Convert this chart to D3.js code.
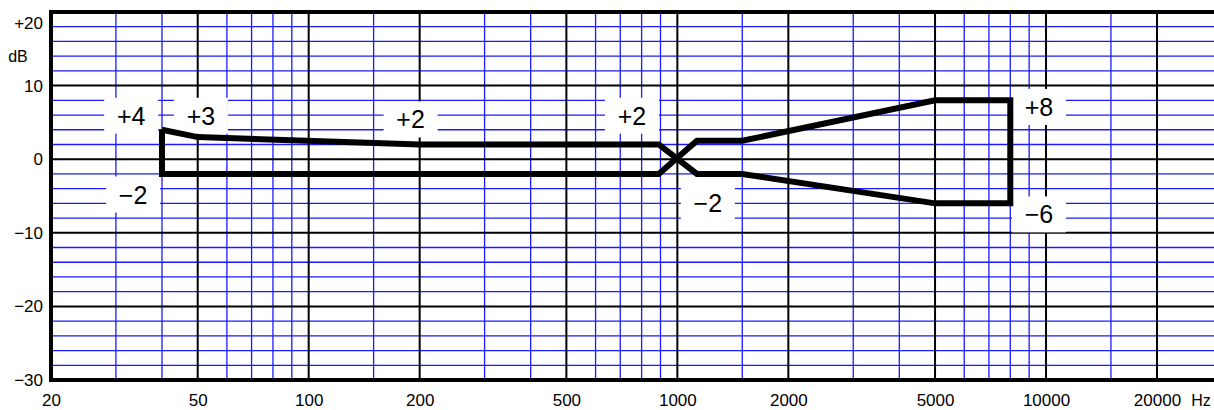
<!DOCTYPE html>
<html>
<head>
<meta charset="utf-8">
<script src="https://cdn.jsdelivr.net/npm/d3@7"></script>
<style>
  body { margin: 0; background: #fff; }
  svg { display: block; }
  text { font-family: "Liberation Sans Narrow", "Liberation Sans", Arial, sans-serif; fill: #000; }
</style>
</head>
<body>
<svg id="chart"></svg>
<script>
// frequency grid (Hz)
const majorFreqs = [20, 50, 100, 200, 500, 1000, 2000, 5000, 10000, 20000];
const minorFreqs = [30, 40, 60, 70, 80, 90, 150, 300, 400, 600, 700, 800, 900,
                    1500, 3000, 4000, 6000, 7000, 8000, 9000, 15000];
const freqLabels = ['20', '50', '100', '200', '500', '1000', '2000', '5000', '10000', '20000'];

// level grid (dB)
const majorLevels = [-30, -20, -10, 0, 10, 20];
const minorLevels = [-28, -26, -24, -22, -18, -16, -14, -12, -8, -6, -4, -2,
                     2, 4, 6, 8, 12, 14, 16, 18];
const levelLabels = ['\u221230', '\u221220', '\u221210', '0', '10', '+20'];

// tolerance band outline (Hz, dB), drawn as one closed path
const bandFreqs  = [40, 50, 200, 890, 1130, 1500, 5000, 8000, 8000, 5000, 1500, 1130, 890, 40, 40];
const bandLevels = [4, 3, 2, 2, -2, -2, -6, -6, 8, 8, 2.5, 2.5, -2, -2, 4];

// annotations: text, anchor freq, anchor dB
const noteTexts  = ['+4', '+3', '+2', '+2', '\u22122', '\u22122', '+8', '\u22126'];
const noteFreqs  = [33, 51, 189, 753, 33.4, 1210, 9570, 9570];
const noteLevels = [5.9, 5.9, 5.4, 5.9, -4.8, -6.0, 7.1, -7.5];

const width = 1214, height = 410;
const margin = { left: 51, top: 12, bottom: 380, right: 1214 };

const svg = d3.select('#chart')
    .attr('width', width)
    .attr('height', height);

const x = d3.scaleLog().domain([20, 20000]).range([margin.left, 1157]);
const y = d3.scaleLinear().domain([-30, 20]).range([margin.bottom, margin.top]);

const grid = svg.append('g');

// minor blue grid
grid.append('g').selectAll('line')
    .data(minorLevels)
    .join('line')
    .attr('x1', margin.left).attr('x2', margin.right)
    .attr('y1', d => y(d)).attr('y2', d => y(d))
    .attr('stroke', '#1a1aff').attr('stroke-width', 1.3);

grid.append('g').selectAll('line')
    .data(minorFreqs)
    .join('line')
    .attr('x1', d => x(d)).attr('x2', d => x(d))
    .attr('y1', margin.top).attr('y2', margin.bottom)
    .attr('stroke', '#1a1aff').attr('stroke-width', 1.3);

// major black grid
grid.append('g').selectAll('line')
    .data(majorLevels.slice(1, -1))
    .join('line')
    .attr('x1', margin.left).attr('x2', margin.right)
    .attr('y1', d => y(d)).attr('y2', d => y(d))
    .attr('stroke', '#000').attr('stroke-width', 2);

grid.append('g').selectAll('line')
    .data(majorFreqs.slice(1))
    .join('line')
    .attr('x1', d => x(d)).attr('x2', d => x(d))
    .attr('y1', margin.top).attr('y2', margin.bottom)
    .attr('stroke', '#000').attr('stroke-width', 2);

// frame: top, bottom, left (no right edge)
const frame = svg.append('g')
    .attr('stroke', '#000').attr('stroke-width', 4).attr('fill', 'none');
frame.append('line').attr('x1', margin.left - 2).attr('x2', margin.right).attr('y1', y(20)).attr('y2', y(20));
frame.append('line').attr('x1', margin.left - 2).attr('x2', margin.right).attr('y1', y(-30)).attr('y2', y(-30));
frame.append('line').attr('x1', x(20)).attr('x2', x(20)).attr('y1', y(20) - 2).attr('y2', y(-30) + 2);

// annotation labels on white boxes
const notes = svg.append('g').selectAll('g')
    .data(noteTexts.map((t, i) => ({ t, f: noteFreqs[i], db: noteLevels[i] })))
    .join('g')
    .attr('transform', d => `translate(${x(d.f)},${y(d.db)})`);

notes.append('rect')
    .attr('x', -27).attr('y', -18)
    .attr('width', 54).attr('height', 36)
    .attr('fill', '#fff');

notes.append('text')
    .attr('text-anchor', 'middle')
    .attr('dy', '0.36em')
    .style('font-size', '25px')
    .text(d => d.t);

// tolerance band
const line = d3.line()
    .x(d => x(d[0]))
    .y(d => y(d[1]));

svg.append('path')
    .datum(d3.zip(bandFreqs, bandLevels))
    .attr('d', line)
    .attr('fill', 'none')
    .attr('stroke', '#000')
    .attr('stroke-width', 6)
    .attr('stroke-linejoin', 'miter');

// axes (labels only)
const yAxis = svg.append('g')
    .attr('transform', `translate(${margin.left - 6},0)`)
    .call(d3.axisLeft(y)
        .tickValues(majorLevels)
        .tickSize(0)
        .tickPadding(2)
        .tickFormat((d, i) => levelLabels[i]));
yAxis.select('.domain').remove();
yAxis.selectAll('text')
    .style('font-size', '17px')
    .attr('dy', d => d === 20 ? '0.95em' : '0.32em');

const xAxis = svg.append('g')
    .attr('transform', `translate(0,${margin.bottom + 12})`)
    .call(d3.axisBottom(x)
        .tickValues(majorFreqs)
        .tickSize(0)
        .tickPadding(2)
        .tickFormat((d, i) => freqLabels[i]));
xAxis.select('.domain').remove();
xAxis.selectAll('text')
    .style('font-size', '17px');

// remove the font attrs the axis puts on its group so the CSS font applies
yAxis.attr('font-family', null).attr('font-size', null);
xAxis.attr('font-family', null).attr('font-size', null);

svg.append('text')
    .attr('x', 18).attr('y', 56)
    .attr('text-anchor', 'middle')
    .attr('dy', '0.35em')
    .style('font-size', '16px')
    .text('dB');

svg.append('text')
    .attr('x', 1201).attr('y', 400)
    .attr('text-anchor', 'middle')
    .attr('dy', '0.35em')
    .style('font-size', '16px')
    .text('Hz');
</script>
</body>
</html>
